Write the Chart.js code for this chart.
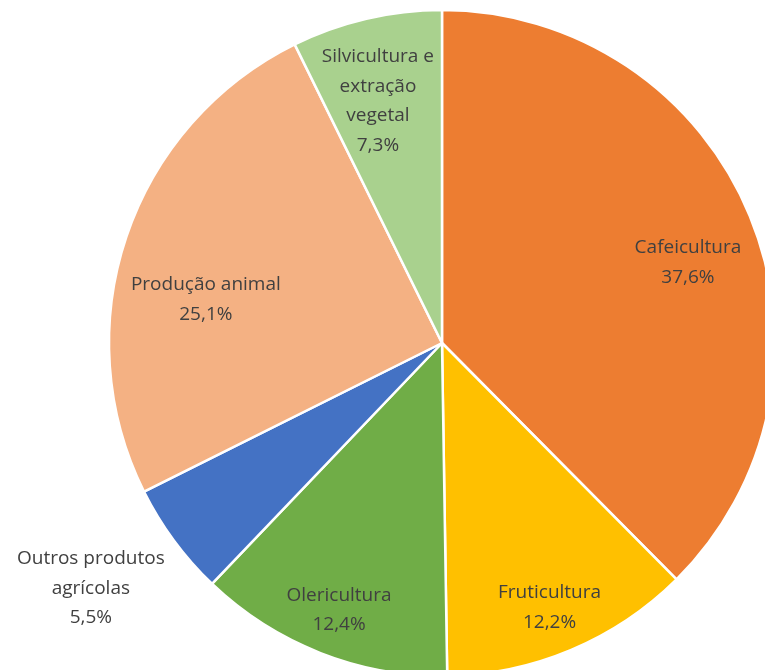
<!DOCTYPE html>
<html>
<head>
<meta charset="utf-8">
<script src="https://cdn.jsdelivr.net/npm/chart.js@4"></script>
<style>
    html, body { margin: 0; padding: 0; background: #fff; overflow: hidden; width: 765px; height: 670px; }
    #wrap { position: absolute; left: 0; top: 0; width: 884px; height: 686px; }
</style>
</head>
<body>
<div id="wrap"><canvas id="pieChart"></canvas></div>
<script>
// Data
const categories = [
    ['Cafeicultura'],
    ['Fruticultura'],
    ['Olericultura'],
    ['Outros produtos', 'agrícolas'],
    ['Produção animal'],
    ['Silvicultura e', 'extração', 'vegetal']
];
const shares = [37.6, 12.2, 12.4, 5.5, 25.1, 7.3];
const sliceColors = ['#ED7D31', '#FFC000', '#70AD47', '#4472C4', '#F4B183', '#A9D18E'];

// Label placement: fraction of radius and a small angle nudge (deg) off the slice middle
const labelRadius = [0.777, 0.857, 0.859, 1.286, 0.721, 0.752];
const labelNudge = [4.3, 0.7, -0.3, 1.5, -8.2, -1.7];

function formatPct(v) {
    return v.toFixed(1).replace('.', ',') + '%';
}

// Simple in-slice label plugin (no datalabels available)
const sliceLabels = {
    id: 'sliceLabels',
    afterDatasetsDraw(chart) {
        const ctx = chart.ctx;
        const meta = chart.getDatasetMeta(0);
        ctx.save();
        ctx.font = '19px "Open Sans", sans-serif';
        ctx.fillStyle = '#404040';
        ctx.textAlign = 'center';
        ctx.textBaseline = 'middle';
        meta.data.forEach((arc, i) => {
            const p = arc.getProps(['x', 'y', 'startAngle', 'endAngle', 'outerRadius'], true);
            const mid = (p.startAngle + p.endAngle) / 2 + labelNudge[i] * Math.PI / 180;
            const r = p.outerRadius * labelRadius[i];
            const cx = p.x + Math.cos(mid) * r;
            const cy = p.y + Math.sin(mid) * r;
            const lines = categories[i].concat([formatPct(shares[i])]);
            const lineH = 29.5;
            const top = cy - (lines.length - 1) * lineH / 2;
            lines.forEach((t, k) => ctx.fillText(t, cx, top + k * lineH));
        });
        ctx.restore();
    }
};

new Chart(document.getElementById('pieChart'), {
    type: 'pie',
    data: {
        labels: categories,
        datasets: [{
            data: shares,
            backgroundColor: sliceColors,
            borderColor: '#ffffff',
            borderWidth: 2.5
        }]
    },
    options: {
        responsive: true,
        maintainAspectRatio: false,
        animation: false,
        radius: 333,
        layout: { padding: 0 },
        plugins: {
            legend: { display: false },
            tooltip: { enabled: false }
        }
    },
    plugins: [sliceLabels]
});
</script>
</body>
</html>
